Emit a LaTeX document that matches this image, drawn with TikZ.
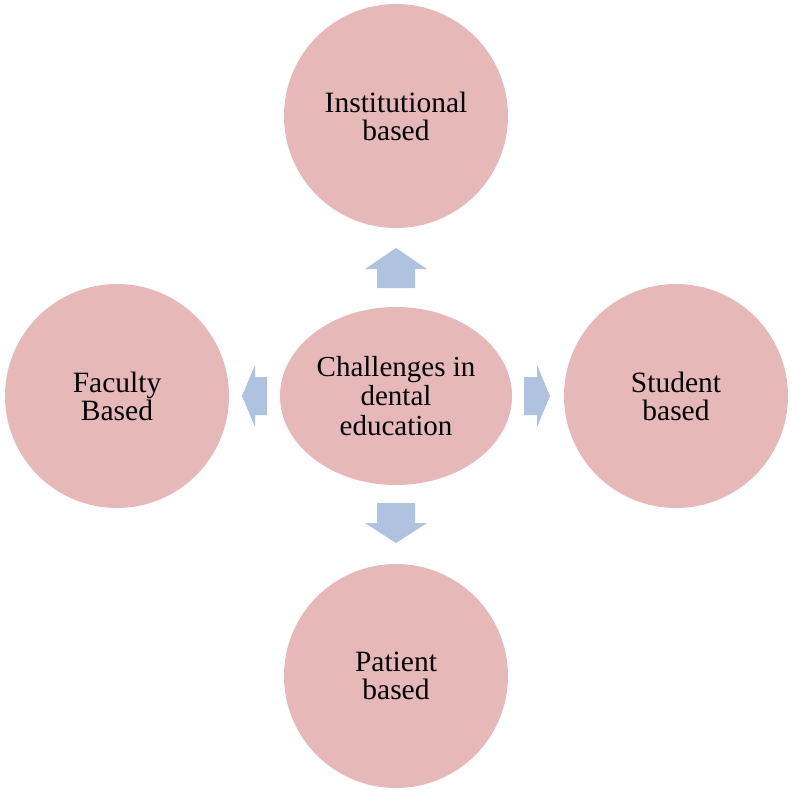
\documentclass[tikz,border=0pt]{standalone}
\usepackage{fontspec}
\setmainfont{Liberation Serif}
\usetikzlibrary{shapes.geometric}
\definecolor{pinkfill}{HTML}{E6B9B8}
\definecolor{arrowfill}{HTML}{AFC2DF}
\begin{document}
\begin{tikzpicture}[x=1pt,y=-1pt,
  bubble/.style={circle,fill=pinkfill,minimum size=224pt,inner sep=0pt,align=center,
    font=\fontsize{29.5}{28}\selectfont},
  hub/.style={ellipse,fill=pinkfill,minimum width=232pt,minimum height=178pt,inner sep=0pt,align=center,
    font=\fontsize{29}{29.5}\selectfont},
  blockarrow/.style={fill=arrowfill}]
\useasboundingbox (0,0) rectangle (792,792);
\node[hub] (hub) at (396,396) {Challenges in\\dental\\education};
\node[bubble] (top) at (396,116) {Institutional\\based};
\node[bubble] (left) at (117,396) {Faculty\\Based};
\node[bubble] (right) at (676,396) {Student\\based};
\node[bubble] (bottom) at (396,676) {Patient\\based};
% up arrow
\fill[blockarrow] (396,248) -- (427,269) -- (415,269) -- (415,288) -- (377,288) -- (377,269) -- (365,269) -- cycle;
% down arrow
\fill[blockarrow] (396,543) -- (427,523) -- (415,523) -- (415,503) -- (377,503) -- (377,523) -- (365,523) -- cycle;
% left arrow
\fill[blockarrow] (242,396) -- (255,365) -- (255,377) -- (267,377) -- (267,415) -- (255,415) -- (255,427) -- cycle;
% right arrow
\fill[blockarrow] (550,396) -- (537,365) -- (537,377) -- (524,377) -- (524,415) -- (537,415) -- (537,427) -- cycle;
\end{tikzpicture}
\end{document}
